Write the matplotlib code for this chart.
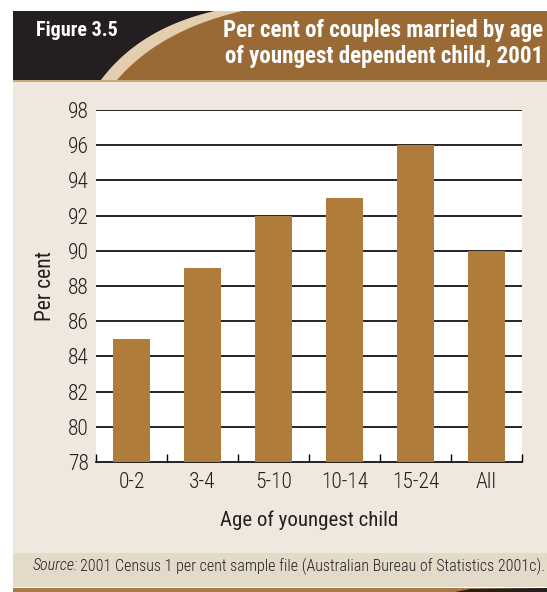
import matplotlib.pyplot as plt
import numpy as np
from matplotlib.patches import Rectangle, Polygon

plt.rcParams['font.family'] = ['Roboto Condensed', 'Archivo Narrow', 'DejaVu Sans']
plt.rcParams['font.weight'] = 'light'

ages = ['0-2', '3-4', '5-10', '10-14', '15-24', 'All']
married_pct = [85, 89, 92, 93, 96, 90]
y_ticks = [78, 80, 82, 84, 86, 88, 90, 92, 94, 96, 98]

W, H = 547, 592
fig = plt.figure(figsize=(W / 100, H / 100), dpi=100)
fig.patch.set_facecolor('white')

# background panel drawn in pixel coordinates
bg = fig.add_axes([0, 0, 1, 1], zorder=0)
bg.set_xlim(0, W)
bg.set_ylim(H, 0)
bg.axis('off')

DARK = '#231f20'
BROWN = '#9a6a36'
STRIPE = '#e3cfb0'
BODY = '#efe8df'
SOURCE = '#e4dac9'
TEXT = '#231f20'


def qbez(p0, p1, p2, n=40):
    t = np.linspace(0, 1, n)[:, None]
    p0, p1, p2 = map(np.array, (p0, p1, p2))
    return (1 - t) ** 2 * p0 + 2 * (1 - t) * t * p1 + t ** 2 * p2


left_edge = qbez((101, 80), (140, 28), (215, 11))
right_edge = qbez((117, 80), (160, 30), (242, 11))

bg.add_patch(Rectangle((13, 11), W - 13, 69, color=BROWN, lw=0))
bg.add_patch(Polygon(np.vstack([[[13, 11]], left_edge[::-1], [[13, 80]]]),
                     closed=True, color=DARK, lw=0))
bg.add_patch(Polygon(np.vstack([left_edge, right_edge[::-1]]),
                     closed=True, color=STRIPE, lw=0))
bg.add_patch(Rectangle((13, 80), W - 13, 2, color='#c9a77a', lw=0))
bg.add_patch(Rectangle((13, 82), W - 13, 471, color=BODY, lw=0))
bg.add_patch(Rectangle((13, 553), W - 13, 34, color=SOURCE, lw=0))
bg.add_patch(Rectangle((13, 588), W - 13, 4, color='#a87a45', lw=0))
bg.add_patch(Polygon([[455, 592], [470, 589], [W, 588], [W, 592]],
                     closed=True, color=DARK, lw=0))

bg.text(36, 31, 'Figure 3.5', color='white', fontsize=14.5, fontweight='bold',
        va='center', ha='left')
bg.text(543, 31, 'Per cent of couples married by age', color='white',
        fontsize=16.6, fontweight='bold', va='center', ha='right')
bg.text(543, 56, 'of youngest dependent child, 2001', color='white',
        fontsize=16.6, fontweight='bold', va='center', ha='right')
bg.text(33, 566, 'Source:', fontsize=11.5, style='italic', color=TEXT,
        va='center', ha='left')
bg.text(80, 566, '2001 Census 1 per cent sample file (Australian Bureau of Statistics 2001c).',
        fontsize=11.5, color=TEXT, va='center', ha='left')

# chart
ax = fig.add_axes([96 / W, (H - 462) / H, 426 / W, 352 / H], zorder=1)
ax.set_facecolor('white')
x = np.arange(len(ages))
ax.bar(x, married_pct, width=0.51, color='#b07c3a', zorder=3)
ax.set_xlim(-0.5, len(ages) - 0.5)
ax.set_ylim(78, 98)
ax.set_yticks(y_ticks)
for v in y_ticks[1:]:
    ax.axhline(v, color='black', lw=1.2, zorder=2)

for s in ['top', 'left', 'right']:
    ax.spines[s].set_visible(False)
ax.spines['bottom'].set_color('black')
ax.spines['bottom'].set_linewidth(1.2)

ax.set_xticks(x)
ax.set_xticklabels(ages)
ax.set_xticks(np.arange(-0.5, len(ages)), minor=True)
ax.tick_params(axis='x', which='major', length=0, pad=7, labelsize=15.5, colors=TEXT)
ax.tick_params(axis='x', which='minor', direction='in', length=6, width=1, color='black')
ax.tick_params(axis='y', length=0, pad=5, labelsize=15.5, colors=TEXT)

ax.set_xlabel('Age of youngest child', fontsize=15, color=TEXT, labelpad=13)
ax.set_ylabel('Per cent', fontsize=15.5, color=TEXT, labelpad=9)

fig.savefig('out.png', dpi=100, facecolor='white')
